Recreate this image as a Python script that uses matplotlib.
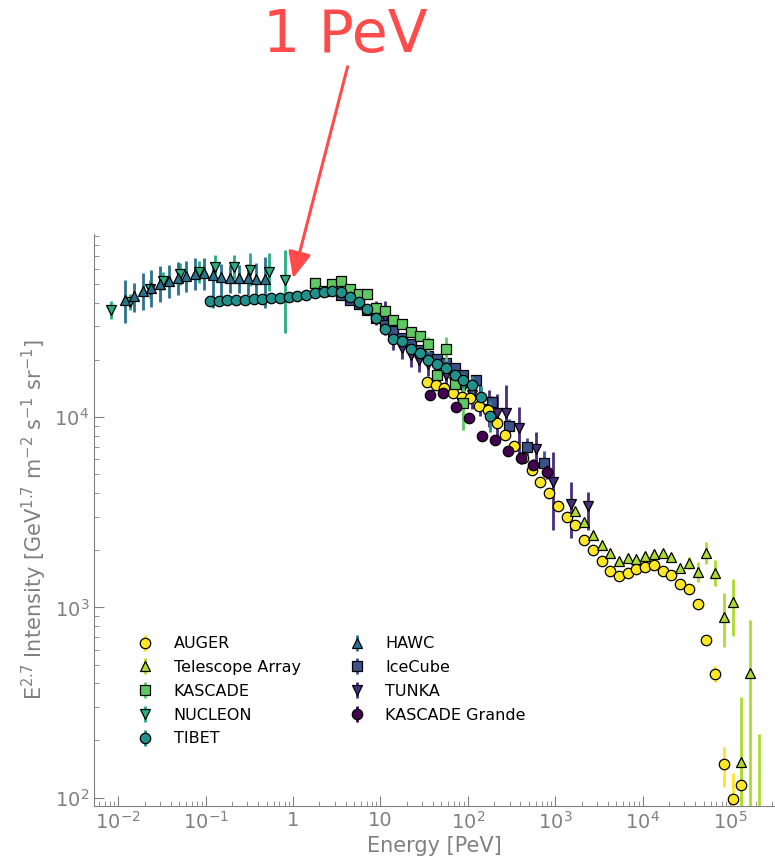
import numpy as np
import matplotlib
matplotlib.use("Agg")
import matplotlib.pyplot as plt
from matplotlib.ticker import FixedLocator, FixedFormatter, LogLocator, NullFormatter

# energies in PeV, intensities E^2.7 J in GeV^1.7 m^-2 s^-1 sr^-1, errors in dex (down, up)
auger_E = [33.9, 42.7, 53.7, 67.6, 85.1, 107, 135, 170, 214, 269, 339, 427, 537, 676, 851,
           1070, 1350, 1700, 2140, 2690, 3390, 4270, 5370, 6760, 8510, 10700, 13500, 17000,
           21400, 26900, 33900, 42700, 53700, 67600, 85100, 107000, 135000]
auger_I = [15300, 14700, 14200, 13400, 12700, 12600, 11400, 10900, 9300, 8040, 7040, 6100,
           5260, 4550, 3990, 3410, 2980, 2710, 2260, 2000, 1750, 1550, 1460, 1510, 1590, 1630,
           1670, 1550, 1480, 1330, 1250, 1040, 673, 446, 150, 98, 116]
auger_dn = [0.01] * 32 + [0.02, 0.04, 0.12, 0.6, 0.1]
auger_up = [0.01] * 32 + [0.02, 0.04, 0.09, 0.14, 0.1]

ta_E = [1700, 2140, 2690, 3390, 4270, 5370, 6760, 8510, 10700, 13500, 17000, 21400, 26900,
        33900, 42700, 53700, 67600, 85100, 107000, 135000, 170000, 214000]
ta_I = [3210, 2810, 2400, 2120, 1930, 1750, 1810, 1790, 1860, 1910, 1930, 1840, 1610, 1710,
        1530, 1930, 1510, 889, 1070, 154, 452, 60]
ta_dn = [0.015] * 12 + [0.02, 0.032, 0.053, 0.058, 0.068, 0.158, 0.179, 1.0, 1.0, 0.5]
ta_up = [0.015] * 12 + [0.02, 0.032, 0.053, 0.058, 0.068, 0.126, 0.121, 0.342, 0.279, 0.556]

kascade_E = [1.78, 2.24, 2.82, 3.55, 4.47, 5.62, 7.08, 8.91, 11.2, 14.1, 17.8, 22.4, 28.2,
             35.5, 44.7, 56.2, 70.8, 89.1]
kascade_I = [50600, 45900, 50000, 51900, 47100, 44200, 44200, 37400, 36100, 32400, 30800,
             28000, 26700, 24200, 16600, 22800, 14900, 11800]
kascade_err = [0.02] * 13 + [0.04, 0.07, 0.065, 0.07, 0.14]

nucleon_E = [0.0083, 0.0135, 0.0229, 0.0324, 0.0513, 0.0832, 0.129, 0.209, 0.324, 0.525, 0.813]
nucleon_I = [36500, 40400, 47400, 52000, 56900, 58000, 61300, 61700, 59700, 58000, 52900]
nucleon_dn = [0.047, 0.042, 0.047, 0.047, 0.058, 0.058, 0.063, 0.063, 0.089, 0.10, 0.279]
nucleon_up = [0.047, 0.042, 0.047, 0.047, 0.058, 0.058, 0.063, 0.063, 0.089, 0.10, 0.158]

tibet_E = [0.112, 0.141, 0.178, 0.224, 0.282, 0.355, 0.447, 0.562, 0.708, 0.891, 1.12, 1.41,
           1.78, 2.24, 2.82, 3.55, 4.47, 5.62, 7.08, 8.91, 11.2, 14.1, 17.8, 22.4, 28.2, 35.5,
           44.7, 56.2, 70.8, 89.1, 112, 141, 178]
tibet_I = [40700, 40900, 41200, 41200, 41400, 41700, 41900, 42200, 42500, 42700, 43200, 44000,
           45100, 45600, 45900, 45400, 42700, 40200, 36900, 33100, 29000, 25700, 25100, 22800,
           21700, 19900, 19000, 18100, 16600, 15600, 14700, 12700, 10100]
tibet_err = [0.01] * 24 + [0.015, 0.02, 0.02, 0.03, 0.03, 0.04, 0.05, 0.06, 0.08]

hawc_E = [0.0120, 0.0151, 0.0191, 0.0240, 0.0302, 0.0380, 0.0479, 0.0603, 0.0759, 0.0955,
          0.120, 0.151, 0.191, 0.240, 0.302, 0.380, 0.479]
hawc_I = [41200, 43200, 45900, 48000, 50400, 52000, 53900, 55300, 56900, 57300, 55700, 54600,
          53900, 53900, 53900, 53500, 53100]
hawc_dn = [0.12, 0.08, 0.10, 0.10, 0.095, 0.09, 0.09, 0.085, 0.085, 0.09, 0.17, 0.10, 0.08,
           0.08, 0.09, 0.11, 0.15]
hawc_up = [0.105, 0.07, 0.095, 0.09, 0.09, 0.085, 0.085, 0.08, 0.08, 0.08, 0.07, 0.07, 0.07,
           0.07, 0.075, 0.08, 0.115]

icecube_E = [3.55, 4.47, 5.62, 7.08, 8.91, 11.2, 14.1, 17.8, 22.4, 28.2, 35.5, 44.7, 56.2,
             70.8, 89.1, 123, 191, 295, 479, 741]
icecube_I = [43700, 41200, 39300, 36500, 33100, 30400, 28300, 26000, 24200, 22500, 20900,
             20200, 19200, 18100, 16600, 15600, 12000, 8970, 6950, 5730]
icecube_err = [0.015] * 15 + [0.02, 0.03, 0.04, 0.047, 0.063]

tunka_E = [8.9, 11.2, 13.8, 17.8, 22.4, 27.5, 34.7, 44.7, 56.2, 69.2, 89.1, 112, 138, 174,
           214, 275, 389, 603, 933, 1510, 2400]
tunka_I = [35200, 33100, 27000, 23100, 21200, 19900, 19000, 18100, 16600, 15300, 14200, 13100,
           12300, 11100, 10500, 10500, 8750, 6790, 4550, 3490, 3410]
tunka_dn = [0.063, 0.089, 0.079, 0.058, 0.063, 0.063, 0.063, 0.053, 0.053, 0.063, 0.063,
            0.074, 0.084, 0.095, 0.13, 0.126, 0.168, 0.11, 0.252, 0.179, 0.126]
tunka_up = [0.063, 0.089, 0.079, 0.058, 0.063, 0.063, 0.063, 0.053, 0.053, 0.063, 0.063,
            0.074, 0.084, 0.095, 0.10, 0.147, 0.11, 0.089, 0.158, 0.116, 0.074]

kg_E = [37.2, 52.5, 74.1, 102, 145, 204, 288, 407, 562, 813]
kg_I = [13100, 13400, 11300, 9880, 7950, 7570, 6620, 6100, 5600, 5140]
kg_err = [0.02] * 7 + [0.03, 0.03, 0.035]

names = ["AUGER", "Telescope Array", "KASCADE", "NUCLEON", "TIBET",
         "HAWC", "IceCube", "TUNKA", "KASCADE Grande"]
markers = ["o", "^", "s", "v", "o", "^", "s", "v", "o"]
zorders = [2, 2, 2, 2, 2, 2, 1.6, 1.5, 2]
series = [
    (auger_E, auger_I, auger_dn, auger_up),
    (ta_E, ta_I, ta_dn, ta_up),
    (kascade_E, kascade_I, kascade_err, kascade_err),
    (nucleon_E, nucleon_I, nucleon_dn, nucleon_up),
    (tibet_E, tibet_I, tibet_err, tibet_err),
    (hawc_E, hawc_I, hawc_dn, hawc_up),
    (icecube_E, icecube_I, icecube_err, icecube_err),
    (tunka_E, tunka_I, tunka_dn, tunka_up),
    (kg_E, kg_I, kg_err, kg_err),
]
colors = plt.cm.viridis(np.linspace(1, 0, 9))

grey = "#808080"
fig = plt.figure(figsize=(7.75, 8.56), dpi=100)
ax = fig.add_axes([0.1213, 0.0584, 0.8787, 0.668])

for (E, I, dn, up), name, m, c, z in zip(series, names, markers, colors, zorders):
    I = np.array(I, dtype=float)
    lo = I - I * 10 ** (-np.array(dn))
    hi = I * 10 ** np.array(up) - I
    ax.errorbar(E, I, yerr=[lo, hi], fmt=m, color=c, ms=7.5, mec="black", mew=0.9,
                elinewidth=2, capsize=0, label=name, zorder=z)

ax.set_xscale("log")
ax.set_yscale("log")
ax.set_xlim(10 ** -2.277, 10 ** 5.515)
ax.set_ylim(90.3, 91600)

xt = [1e-2, 1e-1, 1, 10, 1e2, 1e3, 1e4, 1e5]
xl = [r"$10^{-2}$", r"$10^{-1}$", "1", "10", r"$10^{2}$", r"$10^{3}$", r"$10^{4}$", r"$10^{5}$"]
ax.xaxis.set_major_locator(FixedLocator(xt))
ax.xaxis.set_major_formatter(FixedFormatter(xl))
ax.xaxis.set_minor_locator(LogLocator(base=10, subs=np.arange(2, 10), numticks=20))
ax.xaxis.set_minor_formatter(NullFormatter())
ax.yaxis.set_minor_locator(LogLocator(base=10, subs=np.arange(2, 10), numticks=20))
ax.yaxis.set_minor_formatter(NullFormatter())

for s in ["top", "right"]:
    ax.spines[s].set_visible(False)
for s in ["left", "bottom"]:
    ax.spines[s].set_color(grey)
ax.tick_params(which="both", direction="in", colors=grey, labelsize=14)
ax.tick_params(which="major", length=7)
ax.tick_params(which="minor", length=3.5)

ax.set_xlabel("Energy [PeV]", fontsize=15, color=grey, labelpad=2)
ax.set_ylabel(r"E$^{2.7}$ Intensity [GeV$^{1.7}$ m$^{-2}$ s$^{-1}$ sr$^{-1}$]",
              fontsize=15, color=grey)

ax.legend(ncol=2, frameon=False, fontsize=11.5, loc="upper left",
          bbox_to_anchor=(0.042, 0.308), borderaxespad=0,
          labelspacing=0.55, columnspacing=2.5)

red = "#ff4b4b"
ax.annotate("1 PeV", xy=(1.0, 53700), xycoords="data",
            xytext=(345, 804), textcoords="figure pixels",
            ha="center", va="baseline", fontsize=42, color=red,
            arrowprops=dict(arrowstyle="-|>,head_length=0.8,head_width=0.35",
                            color=red, lw=2.2, mutation_scale=20,
                            shrinkA=0, shrinkB=0, relpos=(0.52, 0.0)),
            annotation_clip=False)

fig.savefig("out.png", dpi=100)
